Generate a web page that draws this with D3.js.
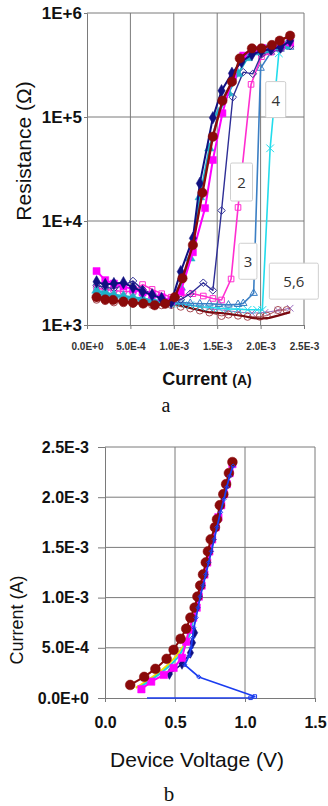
<!DOCTYPE html>
<html><head><meta charset="utf-8">
<script src="https://cdn.jsdelivr.net/npm/d3@7"></script>
<style>body{margin:0;background:#fff}svg{display:block}</style>
</head><body><svg id="c" width="328" height="806"></svg>
<script>
// ---------- DATA: chart a (Resistance vs Current) ----------
const aXTicks = [0, 5e-4, 1e-3, 1.5e-3, 2e-3, 2.5e-3];
const aXTickLabels = ["0.0E+0","5.0E-4","1.0E-3","1.5E-3","2.0E-3","2.5E-3"];
const aYTicks = [1e3, 1e4, 1e5, 1e6];
const aYTickLabels = ["1E+3","1E+4","1E+5","1E+6"];
const lowI = [0.11e-3,0.21e-3,0.31e-3,0.42e-3,0.53e-3,0.64e-3,0.75e-3,0.86e-3,0.97e-3];

const darkRedFilledI = [0.11e-3,0.21e-3,0.30e-3,0.42e-3,0.53e-3,0.65e-3,0.78e-3,0.90e-3,1.01e-3,1.10e-3,1.22e-3,1.33e-3,1.45e-3,1.56e-3,1.67e-3,1.76e-3,1.90e-3,2.01e-3,2.13e-3,2.22e-3,2.34e-3];
const darkRedFilledR = [1850,1760,1740,1680,1640,1610,1550,1600,1850,2810,5880,18700,64700,143500,218700,366000,457000,457000,492000,542000,605000];

const navyFilledI = [...lowI,1.08e-3,1.22e-3,1.30e-3,1.45e-3,1.55e-3,1.67e-3,1.78e-3,1.90e-3,2.01e-3,2.12e-3,2.23e-3,2.34e-3];
const navyFilledR = [2600,2450,2500,2550,2300,2100,1950,1800,1650,3260,6820,23000,98400,179000,263000,340000,400000,430000,450000,470000,540000];

const magentaFilledI = [...lowI,1.08e-3,1.22e-3,1.36e-3,1.45e-3,1.56e-3,1.68e-3,1.80e-3,1.92e-3,2.02e-3,2.13e-3,2.24e-3,2.34e-3];
const magentaFilledR = [3300,2700,2500,2350,2200,2050,1950,1850,1700,2100,5000,13300,38600,108700,245000,390000,440000,460000,470000,490000,520000];

const tealFilledI = [...lowI,1.08e-3,1.19e-3,1.30e-3,1.41e-3,1.52e-3,1.63e-3,1.74e-3,1.85e-3,1.96e-3,2.07e-3,2.18e-3,2.29e-3];
const tealFilledR = [2150,2050,1950,1900,1850,1800,1750,1700,1650,2300,4380,17000,50000,110000,170000,260000,370000,420000,440000,470000,480000];

const curve2I = [...lowI,1.08e-3,1.19e-3,1.34e-3,1.45e-3,1.55e-3,1.68e-3,1.80e-3,1.91e-3,2.01e-3,2.12e-3,2.23e-3,2.34e-3];
const curve2R = [2400,2300,2250,2400,2650,2200,2000,1850,1700,1750,2000,2550,2150,12600,155000,270000,260000,400000,430000,450000,480000];

const curve3I = [...lowI,1.08e-3,1.22e-3,1.34e-3,1.45e-3,1.55e-3,1.66e-3,1.74e-3,1.89e-3,2.01e-3,2.12e-3,2.23e-3,2.34e-3];
const curve3R = [2250,2200,2150,2100,2100,2450,2200,2000,1850,1900,2000,1900,1800,1740,2770,13500,206000,380000,420000,460000,490000];

const curve4I = [...lowI,1.08e-3,1.19e-3,1.30e-3,1.41e-3,1.52e-3,1.63e-3,1.74e-3,1.80e-3,1.92e-3,2.00e-3,2.12e-3,2.23e-3,2.34e-3];
const curve4R = [2000,1950,1900,1850,1800,1750,1700,1680,1650,1650,1620,1600,1600,1580,1560,1580,1614,2020,295000,420000,450000,470000];

const curve5I = [...lowI,1.08e-3,1.19e-3,1.30e-3,1.41e-3,1.52e-3,1.63e-3,1.74e-3,1.85e-3,1.96e-3,2.02e-3,2.11e-3,2.21e-3,2.34e-3];
const curve5R = [2100,2000,1950,1900,1850,1800,1700,1650,1600,1600,1550,1500,1480,1450,1430,1420,1400,1400,1393,50000,410000,510000];

const curve6I = [...lowI,1.08e-3,1.19e-3,1.30e-3,1.41e-3,1.55e-3,1.63e-3,1.74e-3,1.85e-3,1.99e-3,2.07e-3,2.20e-3,2.30e-3];
const curve6R = [1750,1700,1650,1620,1600,1580,1560,1550,1560,1500,1445,1380,1320,1222,1260,1230,1200,1202,1230,1393,1390];

const lowLineI = [1.01e-3,1.20e-3,1.40e-3,1.60e-3,1.80e-3,1.90e-3,2.00e-3,2.10e-3,2.20e-3,2.34e-3];
const lowLineR = [1600,1450,1330,1290,1220,1170,1150,1170,1230,1330];

const purpleI = [1.01e-3,1.15e-3,1.30e-3,1.45e-3,1.60e-3,1.75e-3,1.90e-3,2.05e-3,2.20e-3,2.34e-3];
const purpleR = [1620,1560,1500,1420,1380,1330,1300,1320,1380,1450];

const aNotes = ["2","3","4","5,6"];
const aNoteI = [1.78e-3,1.854e-3,2.174e-3,2.383e-3];
const aNoteR = [23700,4100,147000,2640];

// ---------- DATA: chart b (Current vs Device Voltage) ----------
const bXTicks = [0, 0.5, 1.0, 1.5];
const bXTickLabels = ["0.0","0.5","1.0","1.5"];
const bYTicks = [0, 5e-4, 1e-3, 1.5e-3, 2e-3, 2.5e-3];
const bYTickLabels = ["0.0E+0","5.0E-4","1.0E-3","1.5E-3","2.0E-3","2.5E-3"];

const bRedV = [0.18,0.28,0.36,0.44,0.49,0.54,0.58,0.61,0.64,0.66,0.68,0.70,0.72,0.735,0.755,0.785,0.80,0.82,0.845,0.865,0.885,0.91];
const bRedI = [0.13e-3,0.21e-3,0.29e-3,0.39e-3,0.48e-3,0.59e-3,0.69e-3,0.80e-3,0.90e-3,1.01e-3,1.12e-3,1.23e-3,1.35e-3,1.46e-3,1.58e-3,1.70e-3,1.78e-3,1.92e-3,2.03e-3,2.13e-3,2.24e-3,2.35e-3];

const bMagV = [0.26,0.33,0.42,0.49,0.55,0.58,0.60,0.63,0.655,0.67,0.69,0.71,0.73,0.745,0.765,0.79,0.81,0.83,0.85,0.87,0.89,0.91];
const bMagI = [0.087e-3,0.163e-3,0.23e-3,0.30e-3,0.40e-3,0.56e-3,0.68e-3,0.80e-3,0.90e-3,1.01e-3,1.12e-3,1.23e-3,1.35e-3,1.46e-3,1.58e-3,1.70e-3,1.80e-3,1.92e-3,2.03e-3,2.13e-3,2.24e-3,2.33e-3];

const bYelV = [0.22,0.30,0.38,0.45,0.51,0.56,0.60,0.625,0.65,0.67,0.69,0.71,0.73,0.75,0.77,0.79,0.81,0.83,0.85,0.87,0.89,0.905];
const bYelI = [0.10e-3,0.17e-3,0.25e-3,0.33e-3,0.42e-3,0.52e-3,0.65e-3,0.78e-3,0.90e-3,1.01e-3,1.12e-3,1.23e-3,1.35e-3,1.46e-3,1.58e-3,1.70e-3,1.80e-3,1.92e-3,2.03e-3,2.13e-3,2.24e-3,2.32e-3];

const bCyanV = [0.24,0.32,0.40,0.47,0.53,0.57,0.61,0.63,0.655,0.675,0.695,0.715,0.735,0.75,0.77,0.795,0.81,0.83,0.85,0.87,0.89,0.91];
const bCyanI = [0.10e-3,0.17e-3,0.25e-3,0.33e-3,0.42e-3,0.52e-3,0.65e-3,0.78e-3,0.90e-3,1.01e-3,1.12e-3,1.23e-3,1.35e-3,1.46e-3,1.58e-3,1.70e-3,1.80e-3,1.92e-3,2.03e-3,2.13e-3,2.24e-3,2.32e-3];

const bNavyV = [0.46,0.55,0.61,0.625,0.64];
const bNavyI = [0.24e-3,0.34e-3,0.45e-3,0.55e-3,0.65e-3];

const bBlueV = [0.30,0.70,1.04,1.07,0.67,0.57,0.60,0.615,0.625,0.635,0.65,0.665,0.68,0.70,0.72,0.74,0.76,0.78,0.80,0.825,0.85,0.87,0.89,0.915];
const bBlueI = [0,0,0.002e-3,0.015e-3,0.21e-3,0.33e-3,0.42e-3,0.50e-3,0.60e-3,0.70e-3,0.80e-3,0.90e-3,1.01e-3,1.12e-3,1.23e-3,1.35e-3,1.46e-3,1.58e-3,1.70e-3,1.85e-3,1.98e-3,2.10e-3,2.21e-3,2.31e-3];

// ---------- DRAWING ----------
const svg = d3.select("#c");
const zip = (xs, ys) => xs.map((x, i) => [x, ys[i]]);
const GRID = "#7a7a7a";
const tickFont = "Liberation Sans, Arial, sans-serif";

function drawSeries(g, x, y, pts, st) {
  const line = d3.line().x(d => x(d[0])).y(d => y(d[1]));
  if (st.lw) g.append("path").datum(pts).attr("d", line).attr("fill", "none")
    .attr("stroke", st.color).attr("stroke-width", st.lw).attr("stroke-linejoin", "round");
  if (st.sym) {
    const sym = d3.symbol().type(st.sym).size(st.size);
    g.selectAll(null).data(pts).enter().append("path")
      .attr("transform", d => `translate(${x(d[0])},${y(d[1])})`)
      .attr("d", sym)
      .attr("fill", st.open ? "none" : st.color)
      .attr("stroke", st.color).attr("stroke-width", st.open ? 1 : 0.5);
  }
}

// ===== Chart a =====
const ax = d3.scaleLinear().domain([0, 2.5e-3]).range([87, 304]);
const ay = d3.scaleLog().domain([1e3, 1e6]).range([325, 13]);
const ga = svg.append("g");
ga.selectAll(null).data(aXTicks.slice(1)).enter().append("line")
  .attr("x1", d => ax(d)).attr("x2", d => ax(d)).attr("y1", ay(1e6)).attr("y2", ay(1e3))
  .attr("stroke", GRID).attr("stroke-width", 1);
ga.selectAll(null).data(aYTicks.slice(1)).enter().append("line")
  .attr("x1", ax(0)).attr("x2", ax(2.5e-3)).attr("y1", d => ay(d)).attr("y2", d => ay(d))
  .attr("stroke", GRID).attr("stroke-width", 1);
const aYAxis = d3.axisLeft(ay).tickValues(aYTicks).tickSize(3).tickPadding(2)
  .tickFormat((d, i) => aYTickLabels[i]);
ga.append("g").attr("transform", `translate(${ax(0)},0)`).call(aYAxis)
  .call(g => { g.select(".domain").attr("stroke", GRID); g.selectAll(".tick line").attr("stroke", GRID);
    g.selectAll("text").attr("font-family", tickFont).attr("font-size", 17).attr("font-weight", "bold").attr("fill", "#111"); });
const aXAxis = d3.axisBottom(ax).tickValues(aXTicks).tickSize(4).tickPadding(14)
  .tickFormat((d, i) => aXTickLabels[i]);
ga.append("g").attr("transform", `translate(0,${ay(1e3)})`).call(aXAxis)
  .call(g => { g.select(".domain").attr("stroke", GRID); g.selectAll(".tick line").attr("stroke", GRID);
    g.selectAll("text").attr("font-family", tickFont).attr("font-size", 10).attr("font-weight", "bold").attr("fill", "#333"); });

const ap = ga.append("g");
drawSeries(ap, ax, ay, zip(purpleI, purpleR), {color:"#9a6ac0", lw:1, sym:d3.symbolTimes, size:30, open:true});
drawSeries(ap, ax, ay, zip(curve6I, curve6R), {color:"#a84c55", lw:1, sym:d3.symbolCircle, size:40, open:true});
drawSeries(ap, ax, ay, zip(lowLineI, lowLineR), {color:"#7a0a10", lw:2.2});
drawSeries(ap, ax, ay, zip(curve5I, curve5R), {color:"#22dcec", lw:1.6, sym:d3.symbolTimes, size:40, open:true});
drawSeries(ap, ax, ay, zip(curve4I, curve4R), {color:"#3b7fc4", lw:1.6, sym:d3.symbolTriangle2, size:40, open:true});
drawSeries(ap, ax, ay, zip(curve3I, curve3R), {color:"#ff2ed0", lw:1.6, sym:d3.symbolSquare2, size:40, open:true});
drawSeries(ap, ax, ay, zip(curve2I, curve2R), {color:"#2e2e96", lw:1.4, sym:d3.symbolDiamond2, size:36, open:true});
drawSeries(ap, ax, ay, zip(tealFilledI, tealFilledR), {color:"#1fb0c8", lw:2, sym:d3.symbolTriangle, size:40});
drawSeries(ap, ax, ay, zip(magentaFilledI, magentaFilledR), {color:"#ff00ff", lw:2, sym:d3.symbolSquare, size:50});
drawSeries(ap, ax, ay, zip(navyFilledI, navyFilledR), {color:"#101080", lw:2, sym:d3.symbolDiamond, size:45});
drawSeries(ap, ax, ay, zip(darkRedFilledI, darkRedFilledR), {color:"#8a0a0a", lw:2.4, sym:d3.symbolCircle, size:70});

const noteW = [22, 18, 20, 49], noteH = [38, 36, 36, 36];
aNotes.forEach((t, i) => {
  const cx = ax(aNoteI[i]), cy = ay(aNoteR[i]);
  ga.append("rect").attr("x", cx - noteW[i]/2).attr("y", cy - noteH[i]/2)
    .attr("width", noteW[i]).attr("height", noteH[i]).attr("rx", 1.5)
    .attr("fill", "#fff").attr("stroke", "#cfcfcf").attr("stroke-width", 1);
  ga.append("text").attr("x", cx).attr("y", cy + 6).attr("text-anchor", "middle")
    .attr("font-family", "Open Sans, sans-serif").attr("font-size", 15).attr("fill", "#333").text(t);
});

svg.append("text").attr("transform", "translate(31,151) rotate(-90)").attr("text-anchor", "middle")
  .attr("font-family", tickFont).attr("font-size", 21).attr("fill", "#111").text("Resistance (Ω)");
const tA = svg.append("text").attr("x", 207).attr("y", 385).attr("text-anchor", "middle")
  .attr("font-family", tickFont).attr("fill", "#111");
tA.append("tspan").attr("font-size", 18).attr("font-weight", "bold").text("Current ");
tA.append("tspan").attr("font-size", 14).attr("font-weight", "bold").text("(A)");
svg.append("text").attr("x", 166).attr("y", 412).attr("text-anchor", "middle")
  .attr("font-family", "Liberation Serif, serif").attr("font-size", 20).attr("fill", "#111").text("a");

// ===== Chart b =====
const bx = d3.scaleLinear().domain([0, 1.5]).range([105, 315]);
const by = d3.scaleLinear().domain([0, 2.5e-3]).range([698, 447]);
const gb = svg.append("g");
gb.selectAll(null).data(bXTicks.slice(1)).enter().append("line")
  .attr("x1", d => bx(d)).attr("x2", d => bx(d)).attr("y1", by(2.5e-3)).attr("y2", by(0))
  .attr("stroke", GRID).attr("stroke-width", 1);
gb.selectAll(null).data(bYTicks.slice(1)).enter().append("line")
  .attr("x1", bx(0)).attr("x2", bx(1.5)).attr("y1", d => by(d)).attr("y2", d => by(d))
  .attr("stroke", GRID).attr("stroke-width", 1);
const bYAxis = d3.axisLeft(by).tickValues(bYTicks).tickSize(7).tickPadding(9)
  .tickFormat((d, i) => bYTickLabels[i]);
gb.append("g").attr("transform", `translate(${bx(0)},0)`).call(bYAxis)
  .call(g => { g.select(".domain").attr("stroke", GRID); g.selectAll(".tick line").attr("stroke", GRID);
    g.selectAll("text").attr("font-family", tickFont).attr("font-size", 16).attr("font-weight", "bold").attr("fill", "#111"); });
const bXAxis = d3.axisBottom(bx).tickValues(bXTicks).tickSize(4).tickPadding(15)
  .tickFormat((d, i) => bXTickLabels[i]);
gb.append("g").attr("transform", `translate(0,${by(0)})`).call(bXAxis)
  .call(g => { g.select(".domain").attr("stroke", GRID); g.selectAll(".tick line").attr("stroke", GRID);
    g.selectAll("text").attr("font-family", tickFont).attr("font-size", 16).attr("font-weight", "bold").attr("fill", "#111"); });

const bp = gb.append("g");
drawSeries(bp, bx, by, zip(bBlueV.slice(0, 5), bBlueI.slice(0, 5)), {color:"#1a3cf0", lw:1.6});
drawSeries(bp, bx, by, zip(bBlueV.slice(2, 4), bBlueI.slice(2, 4)), {color:"#1a3cf0", sym:d3.symbolSquare2, size:16, open:true});
drawSeries(bp, bx, by, zip(bYelV, bYelI), {color:"#f2e400", lw:2});
drawSeries(bp, bx, by, zip(bCyanV, bCyanI), {color:"#1ad0e0", lw:2});
drawSeries(bp, bx, by, zip(bNavyV, bNavyI), {color:"#101080", lw:1.5, sym:d3.symbolDiamond, size:35});
drawSeries(bp, bx, by, zip(bMagV, bMagI), {color:"#ff00ff", lw:2, sym:d3.symbolSquare, size:55});
drawSeries(bp, bx, by, zip(bRedV, bRedI), {color:"#8a0a0a", lw:2, sym:d3.symbolCircle, size:75});
drawSeries(bp, bx, by, zip(bBlueV.slice(4), bBlueI.slice(4)), {color:"#1a3cf0", lw:1.8, sym:d3.symbolDiamond2, size:12, open:true});

svg.append("text").attr("transform", "translate(23,620) rotate(-90)").attr("text-anchor", "middle")
  .attr("font-family", tickFont).attr("font-size", 18).attr("fill", "#111").text("Current (A)");
svg.append("text").attr("x", 197).attr("y", 767).attr("text-anchor", "middle")
  .attr("font-family", tickFont).attr("font-size", 21).attr("fill", "#111").text("Device Voltage (V)");
svg.append("text").attr("x", 169).attr("y", 801).attr("text-anchor", "middle")
  .attr("font-family", "Liberation Serif, serif").attr("font-size", 21).attr("fill", "#111").text("b");
</script></body></html>
